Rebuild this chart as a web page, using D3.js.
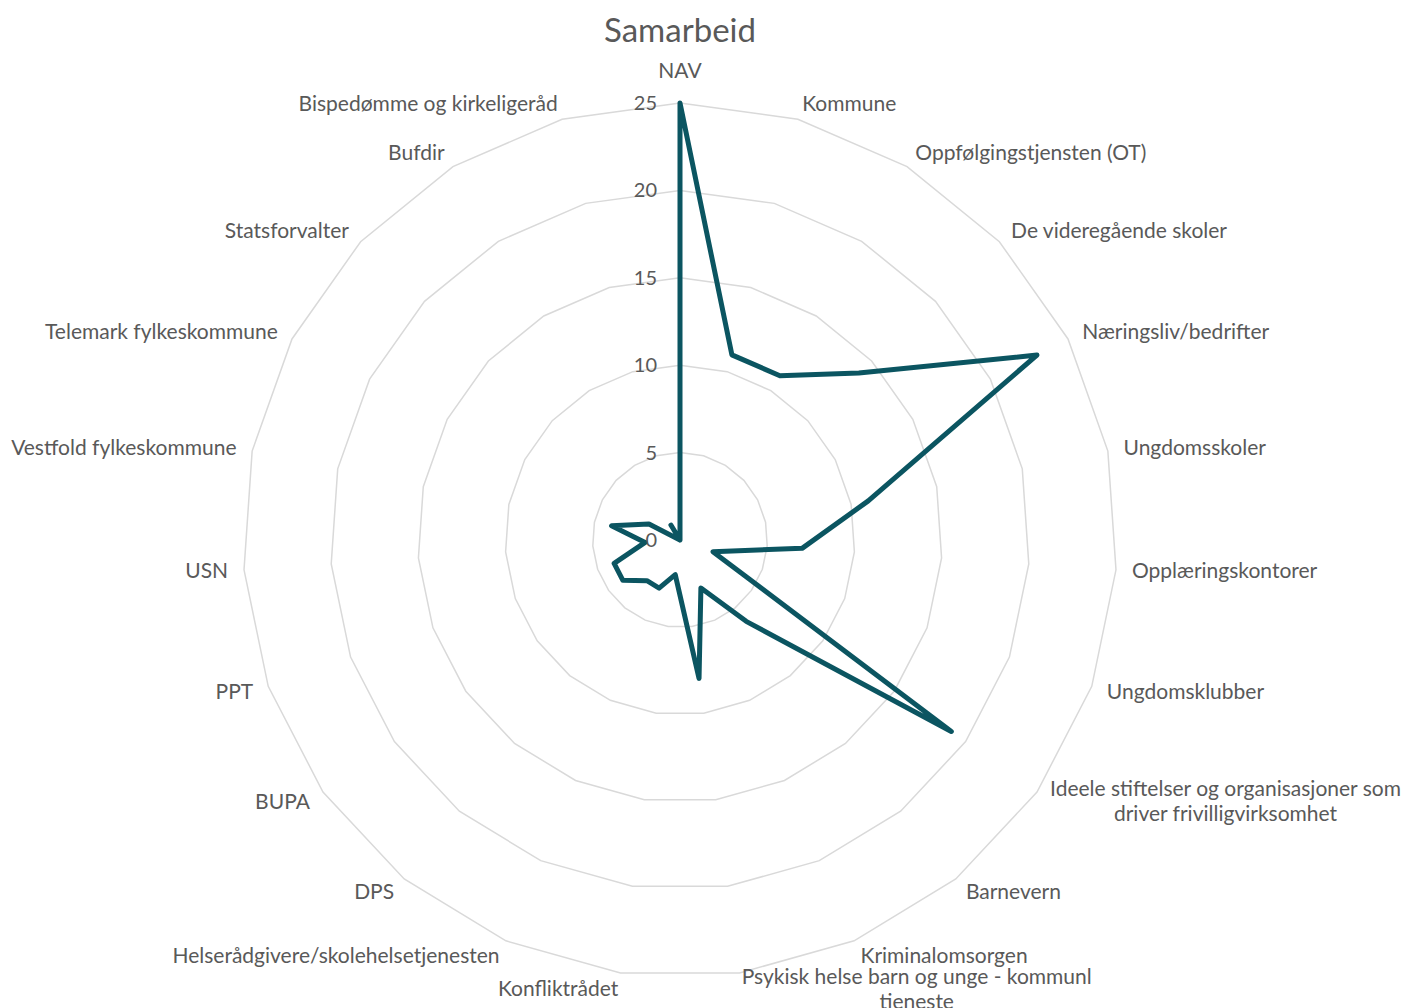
<!DOCTYPE html>
<html lang="no">
<head>
<meta charset="utf-8">
<title>Samarbeid</title>
<script src="https://cdn.jsdelivr.net/npm/d3@7"></script>
<style>
body { margin: 0; background: #fff; }
svg text { font-family: Lato, "Noto Sans", sans-serif; fill: #595959; }
.grid { fill: none; stroke: #d9d9d9; stroke-width: 1.5; }
.series { fill: none; stroke: #0b5561; stroke-width: 5; stroke-linejoin: round; }
.cat { font-size: 21px; }
.tick { font-size: 20px; }
.title { font-size: 33px; }
</style>
</head>
<body>
<script>
// categories clockwise from the top
var categories = [
  "NAV", "Kommune", "Oppfølgingstjensten (OT)", "De videregående skoler",
  "Næringsliv/bedrifter", "Ungdomsskoler", "Opplæringskontorer", "Ungdomsklubber",
  "Ideele stiftelser og organisasjoner som\ndriver frivilligvirksomhet",
  "Barnevern", "Kriminalomsorgen", "Psykisk helse barn og unge - kommunl\ntieneste",
  "Konfliktrådet", "Helserådgivere/skolehelsetjenesten", "DPS", "BUPA", "PPT", "USN",
  "Vestfold fylkeskommune", "Telemark fylkeskommune", "Statsforvalter", "Bufdir",
  "Bispedømme og kirkeligeråd"
]
var values = [25, 11, 11, 14, 23, 11, 7, 2, 19, 6, 3, 8, 2, 3, 3, 4, 4, 2, 4, 2, 0, 1, 0]
var ticks = [0, 5, 10, 15, 20, 25]
var title = "Samarbeid"

var width = 1402, height = 1008
var cx = 680, cy = 540, R = 437

var svg = d3.select("body").append("svg")
  .attr("width", width)
  .attr("height", height)

var g = svg.append("g")
  .attr("transform", "translate(" + cx + "," + cy + ")")

var r = d3.scaleLinear().domain([0, 25]).range([0, R])
var step = 2 * Math.PI / categories.length
var angle = function(i) { return i * step }

// rings
var ring = d3.lineRadial()
  .angle(function(d, i) { return angle(i) })
  .radius(function(d) { return r(d) })
  .curve(d3.curveLinearClosed)

g.selectAll(".grid")
  .data(ticks.filter(function(t) { return t > 0 }))
  .enter().append("path")
  .attr("class", "grid")
  .attr("d", function(t) { return ring(categories.map(function() { return t })) })

// series
g.append("path")
  .attr("class", "series")
  .attr("d", ring(values))

// tick labels
g.selectAll(".tick")
  .data(ticks)
  .enter().append("text")
  .attr("class", "tick")
  .attr("x", -23)
  .attr("y", function(t) { return -r(t) })
  .attr("dy", "0.35em")
  .attr("text-anchor", "end")
  .text(function(t) { return t })

// category labels
var lineH = 25
categories.forEach(function(c, i) {
  var a = angle(i), s = Math.sin(a), co = Math.cos(a)
  var ax = (R + 16) * s, ay = -(R + 16) * co
  var anchor = s > 0.1 ? "start" : (s < -0.1 ? "end" : "middle")
  if (anchor === "middle") ay -= 16 * co
  var lines = c.split("\n")
  var t = g.append("text").attr("class", "cat").attr("text-anchor", anchor)
  lines.forEach(function(l, k) {
    t.append("tspan")
      .attr("x", ax)
      .attr("y", ay + (k - (lines.length - 1) / 2) * lineH)
      .attr("dy", "0.35em")
      .text(l)
  })
  if (lines.length > 1) {
    var w = d3.max(t.selectAll("tspan").nodes(), function(n) { return n.getComputedTextLength() })
    var mx = anchor === "start" ? ax + w / 2 : (anchor === "end" ? ax - w / 2 : ax)
    t.attr("text-anchor", "middle")
    t.selectAll("tspan").attr("x", mx)
  }
})

svg.append("text")
  .attr("class", "title")
  .attr("x", cx)
  .attr("y", 30)
  .attr("dy", "0.35em")
  .attr("text-anchor", "middle")
  .text(title)
</script>
</body>
</html>
